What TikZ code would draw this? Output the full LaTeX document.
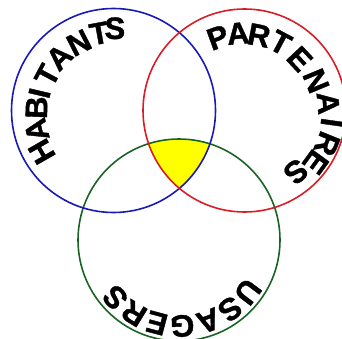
\documentclass[tikz,border=0pt]{standalone}
\usepackage{fontspec}
\setmainfont{Liberation Sans}
\newfontfamily\heavyfont[FakeBold=1.2]{Liberation Sans Bold}
\usetikzlibrary{calc}
\definecolor{bluec}{RGB}{25,25,185}
\definecolor{redc}{RGB}{215,30,40}
\definecolor{greenc}{RGB}{25,100,35}
\definecolor{yellowc}{RGB}{255,255,0}
\begin{document}
\begin{tikzpicture}[x=1pt,y=1pt,
  ring/.style={line width=1.6pt},
  letter/.style={font=\fontsize{31}{31}\selectfont\heavyfont, inner sep=0pt, anchor=center}]
\useasboundingbox (0,0) rectangle (342,338);
\coordinate (cb) at (113.5,227.5);
\coordinate (cr) at (244.5,227.5);
\coordinate (cg) at (179,98);
\begin{scope}
  \clip (cb) circle (102);
  \clip (cr) circle (101.5);
  \fill[yellowc] (cg) circle (101);
\end{scope}
\draw[ring, greenc] (cg) circle (101);
\draw[ring, bluec] (cb) circle (102);
\draw[ring, redc] (cr) circle (101.5);
% HABITANTS
\foreach \ch/\a/\r [count=\i] in {H/209.8/82.8, A/194.2/79.2, B/177.8/77, I/166.8/76, T/152/75, A/135.5/76, N/117/76, T/100.5/78.4, S/89/82.2}
  \node[letter, rotate=\a-90] (h\i) at ($(cb)+(\a:\r)$) {\ch};
% PARTENAIRES
\foreach \ch/\a/\r [count=\i] in {P/110/77.7, A/94.8/77.3, R/79/76.5, T/62/76.7, E/43/75.5, N/22.5/77.5, A/5/84, I/-8/88, R/-22/89, E/-36/88, S/-50/80}
  \node[letter, rotate=\a-90] (p\i) at ($(cr)+(\a:\r)$) {\ch};
% USAGERS
\foreach \ch/\a [count=\i] in {U/323, S/306.5, A/290, G/272.2, E/255, R/238.5, S/222}
  \node[letter, rotate=\a-90] (u\i) at ($(cg)+(\a:86)$) {\ch};
\end{tikzpicture}
\end{document}
